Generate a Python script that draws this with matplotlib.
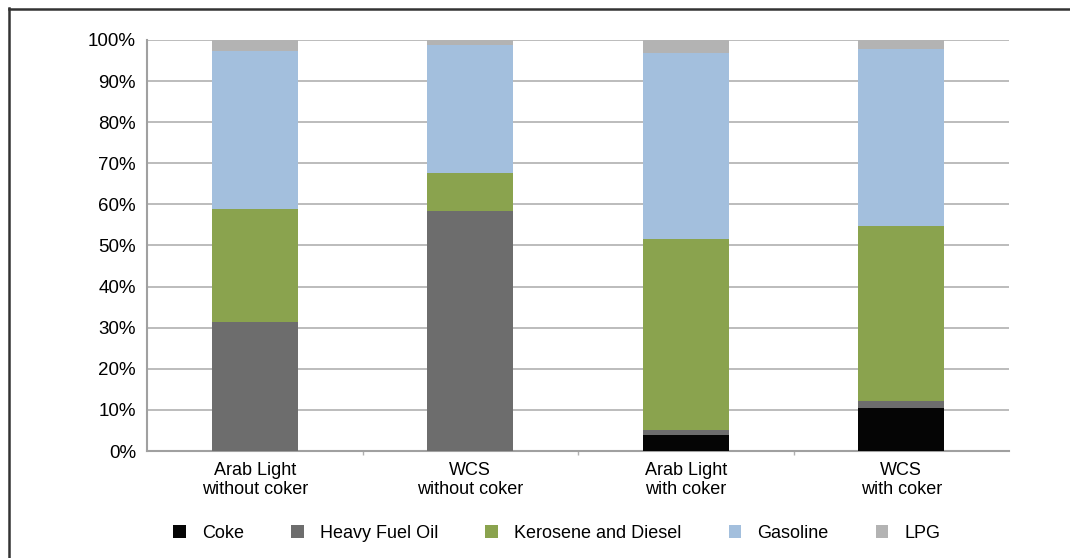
import matplotlib
matplotlib.use("Agg")
import matplotlib.pyplot as plt
from matplotlib import font_manager
from matplotlib.lines import Line2D
import numpy as np

names = {f.name for f in font_manager.fontManager.ttflist}
fam = "Liberation Sans Narrow" if "Liberation Sans Narrow" in names else "Liberation Sans"
plt.rcParams['font.family'] = [fam, 'DejaVu Sans']

categories = ["Arab Light\nwithout coker", "WCS\nwithout coker", "Arab Light\nwith coker", "WCS\nwith coker"]
series = ["Coke", "Heavy Fuel Oil", "Kerosene and Diesel", "Gasoline", "LPG"]
coke = [0.0, 0.0, 4.0, 10.4]
hfo = [31.4, 58.4, 1.0, 1.8]
kero = [27.5, 9.2, 46.6, 42.5]
gasoline = [38.4, 31.2, 45.2, 43.1]
lpg = [2.7, 1.2, 3.2, 2.2]
colors = ["#050505", "#6d6d6d", "#8aa34e", "#a3bfdd", "#b3b3b3"]

fig = plt.figure(figsize=(10.7, 5.58), dpi=100)
ax = fig.add_axes([147/1070, 1-451/558, (1009-147)/1070, (451-40)/558])

x = np.arange(len(categories))
bottom = np.zeros(len(categories))
handles = []
for name, vals, c in zip(series, [coke, hfo, kero, gasoline, lpg], colors):
    b = ax.bar(x, vals, 0.4, bottom=bottom, color=c, label=name, zorder=3)
    bottom += np.array(vals)
    handles.append(b)

ax.set_xlim(-0.5, len(categories)-0.5)
ax.set_ylim(0, 100)
ax.set_yticks(np.arange(0, 101, 10))
ax.set_yticklabels([f"{v}%" for v in range(0, 101, 10)], fontsize=13.5)
ax.yaxis.grid(True, color="#b0b0b0", linewidth=1.2, zorder=0)
ax.set_xticks(x)
ax.set_xticklabels(categories, fontsize=13, linespacing=1.12)
ax.set_xticks(np.arange(0.5, len(categories)-0.5, 1), minor=True)
ax.tick_params(axis='x', which='major', length=0, pad=8)
ax.tick_params(axis='x', which='minor', length=3, color="#b0b0b0", width=1)
ax.tick_params(axis='y', length=0, pad=8)
for s in ["top", "right"]:
    ax.spines[s].set_visible(False)
for s in ["left", "bottom"]:
    ax.spines[s].set_color("#a0a0a0")
    ax.spines[s].set_linewidth(1.5)

fig.legend(handles=handles, labels=series, loc="center", bbox_to_anchor=(557/1070, 1-533/558),
           ncol=5, frameon=False, fontsize=13, handlelength=0.7, handleheight=0.7,
           handletextpad=0.9, columnspacing=2.6)

fig.add_artist(Line2D([8.5/1070, 8.5/1070], [0, 1-8/558], transform=fig.transFigure, color="#333333", lw=1.8))
fig.add_artist(Line2D([8.5/1070, 1], [1-8.5/558, 1-8.5/558], transform=fig.transFigure, color="#333333", lw=1.8))

fig.savefig("out.png", dpi=100)
